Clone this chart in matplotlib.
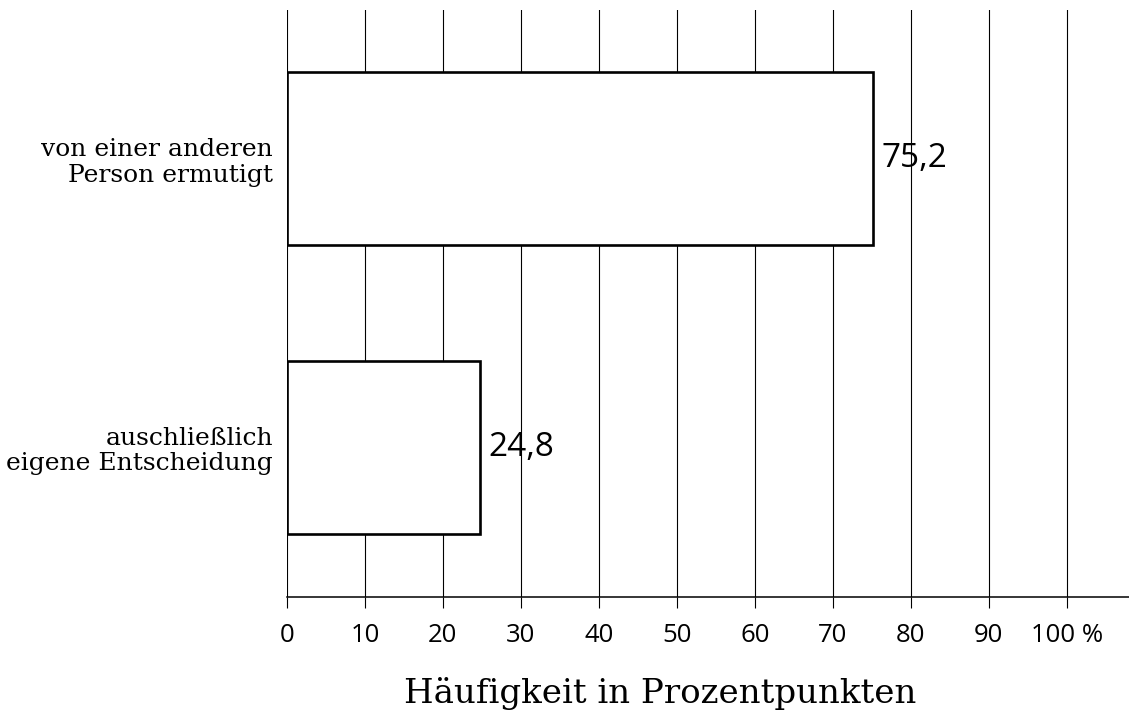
import matplotlib.pyplot as plt

# Daten
kategorien = ["auschließlich\neigene Entscheidung", "von einer anderen\nPerson ermutigt"]
werte = [24.8, 75.2]
wert_labels = ["24,8", "75,2"]
ticks = [0, 10, 20, 30, 40, 50, 60, 70, 80, 90, 100]
tick_labels = ["0", "10", "20", "30", "40", "50", "60", "70", "80", "90", "100 %"]

fig = plt.figure(figsize=(11.29, 7.11), dpi=100)
ax = fig.add_axes([0.2542, 0.1603, 0.7458, 0.8257])

pos = list(range(len(kategorien)))

# Gitterlinien zuerst, Balken darüber
for t in ticks:
    ax.axvline(t, color="black", linewidth=0.8, zorder=1)

ax.barh(pos, werte, height=0.6, color="white", edgecolor="black",
        linewidth=1.9, zorder=3)

for p, w, lab in zip(pos, werte, wert_labels):
    ax.text(w + 1.0, p, lab, va="center", ha="left", fontsize=24,
            family="Open Sans", zorder=4)

ax.set_xlim(0, 108)
ax.set_ylim(-0.518, 1.516)

ax.set_xticks(ticks)
ax.set_xticklabels(tick_labels, fontsize=18.5, family="Open Sans")
ax.tick_params(axis="x", length=8, width=0.8, pad=11)

ax.set_yticks(pos)
ax.set_yticklabels(kategorien, fontsize=18, family="DejaVu Serif",
                   linespacing=1.12)
ax.tick_params(axis="y", length=0, pad=10)

for s in ["top", "right", "left"]:
    ax.spines[s].set_visible(False)
ax.spines["bottom"].set_linewidth(1.1)

fig.text(660 / 1129, 1 - 693 / 711, "Häufigkeit in Prozentpunkten",
         ha="center", va="center", fontsize=24.5, family="DejaVu Serif")

fig.savefig("out.png", dpi=100)
